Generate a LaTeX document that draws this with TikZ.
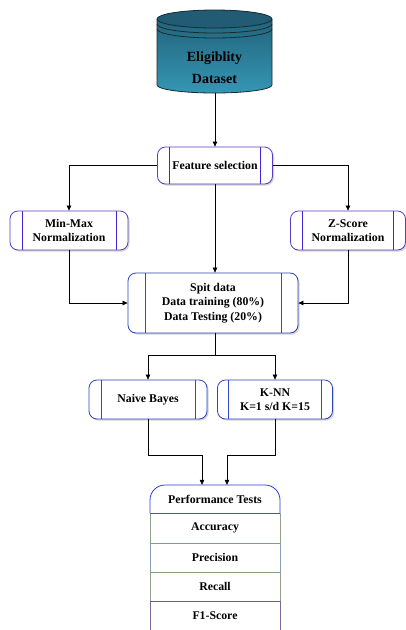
\documentclass[tikz,border=0pt]{standalone}
\usepackage{fontspec}
\setmainfont{Liberation Serif}
\usetikzlibrary{shadows,arrows.meta}
\definecolor{purp}{HTML}{5B3CC4}
\definecolor{purpin}{HTML}{4A22D8}
\definecolor{bl}{HTML}{2C45B8}
\definecolor{blin}{HTML}{3048D0}
\definecolor{cyltop}{HTML}{215C74}
\definecolor{cylbot}{HTML}{3497B4}
\definecolor{cylline}{HTML}{1A2A30}
\definecolor{hdr}{HTML}{2A3FD0}
\definecolor{sepA}{HTML}{4A6070}
\definecolor{accs}{HTML}{8FA48A}
\definecolor{sepB}{HTML}{7C98B0}
\definecolor{pres}{HTML}{8AA0B8}
\definecolor{sepC}{HTML}{86A07E}
\definecolor{recs}{HTML}{8FA48A}
\definecolor{sepD}{HTML}{6A5A8C}
\definecolor{f1s}{HTML}{7A6A9A}
\tikzset{
  lbl/.style={font=\bfseries\fontsize{11.8}{13.5}\selectfont, align=center},
  boxbase/.style={lbl, rectangle, rounded corners=8pt, fill=white, line width=0.8pt, inner sep=0pt,
    drop shadow={shadow xshift=1.5pt, shadow yshift=-1.5pt, opacity=0.35}},
  pbox/.style={boxbase, draw=purp, path picture={
    \draw[purpin, line width=0.7pt]
      ([xshift=#1]path picture bounding box.north west) -- ([xshift=#1]path picture bounding box.south west)
      ([xshift=-#1]path picture bounding box.north east) -- ([xshift=-#1]path picture bounding box.south east);}},
  bbox/.style={boxbase, draw=bl, path picture={
    \draw[blin, line width=0.7pt]
      ([xshift=#1]path picture bounding box.north west) -- ([xshift=#1]path picture bounding box.south west)
      ([xshift=-#1]path picture bounding box.north east) -- ([xshift=-#1]path picture bounding box.south east);}},
  arr/.style={-{Triangle[length=5pt,width=4.5pt]}, line width=0.6pt},
  ln/.style={line width=0.6pt},
  rowtxt/.style={lbl, minimum width=130pt, minimum height=29pt, inner sep=0pt}
}
\begin{document}
\begin{tikzpicture}[x=1pt,y=-1pt]
\useasboundingbox (0,0) rectangle (406,630);
% cylinder
\shade[top color=cyltop, bottom color=cylbot] (157,19) -- (157,85) arc (180:0:57.5 and 8) -- (272,19) arc (0:-180:57.5 and 9) -- cycle;
\fill[cyltop] (214.5,19) ellipse (57.5 and 9);
\draw[cylline, line width=0.8pt] (157,19) -- (157,85) arc (180:0:57.5 and 8) -- (272,19);
\draw[cylline, line width=0.8pt] (214.5,19) ellipse (57.5 and 9);
\draw[cylline, line width=0.8pt] (157,24) arc (180:0:57.5 and 9);
\draw[cylline, line width=0.8pt] (157,29) arc (180:0:57.5 and 9);
\node[font=\bfseries\fontsize{14}{22}\selectfont, align=center] (ds) at (214.5,68) {Eligiblity\\Dataset};
\coordinate (dsb) at (215,93);

% boxes
\node[pbox=12pt, minimum width=115pt, minimum height=37pt] (fs) at (215,165.5) {Feature selection};
\node[pbox=12pt, minimum width=118pt, minimum height=39pt] (mm) at (69,230.5) {Min-Max\\Normalization};
\node[pbox=12pt, minimum width=115pt, minimum height=39pt] (zs) at (348,230.5) {Z-Score\\Normalization};
\node[bbox=17pt, minimum width=170pt, minimum height=60pt, font=\bfseries\fontsize{11.8}{14.5}\selectfont] (sd) at (213,303) {Spit data\\Data training (80\%)\\Data Testing (20\%)};
\node[bbox=12pt, minimum width=118pt, minimum height=39pt] (nb) at (148,399.5) {Naive Bayes};
\node[bbox=11pt, minimum width=115pt, minimum height=39pt] (kn) at (275,399.5) {K-NN\\K=1 s/d K=15};

% performance table
\node[rowtxt, minimum height=28pt] (pt) at (215,499) {Performance Tests};
\node[rowtxt] (acc) at (215,528) {Accuracy};
\node[rowtxt] (pre) at (215,557.5) {Precision};
\node[rowtxt] (rec) at (215,586.5) {Recall};
\node[rowtxt] (f1) at (215,615.5) {F1-Score};
\draw[hdr, line width=0.8pt] (150,513) [rounded corners=15pt] -- (150,485) -- (280,485) [sharp corners] -- (280,513);
\draw[accs, line width=0.8pt] (150,513) -- (150,543) (280,513) -- (280,543);
\draw[pres, line width=0.8pt] (150,543) -- (150,572) (280,543) -- (280,572);
\draw[recs, line width=0.8pt] (150,572) -- (150,601) (280,572) -- (280,601);
\draw[f1s, line width=0.8pt] (150,601) -- (150,631) (280,601) -- (280,631);
\draw[sepA, line width=0.8pt] (150,513) -- (280,513);
\draw[sepB, line width=0.8pt] (150,543) -- (280,543);
\draw[sepC, line width=0.8pt] (150,572) -- (280,572);
\draw[sepD, line width=0.8pt] (150,601) -- (280,601);

% connectors
\draw[arr] (dsb) -- (fs);
\draw[arr] (fs.west) -| (mm.north);
\draw[arr] (fs.east) -| (zs.north);
\draw[arr] (fs.south) -- (fs.south |- sd.north);
\draw[arr] (mm.south) |- (sd.west);
\draw[arr] (zs.south) |- (sd.east);
\coordinate (sp) at (215,355);
\draw[ln] (sp |- sd.south) -- (sp);
\draw[arr] (sp) -| (nb.north);
\draw[arr] (sp) -| (kn.north);
\coordinate (jl) at (202,455);
\coordinate (jr) at (227,455);
\draw[arr] (nb.south) |- (jl) -- (jl |- pt.north);
\draw[arr] (kn.south) |- (jr) -- (jr |- pt.north);
\end{tikzpicture}
\end{document}
